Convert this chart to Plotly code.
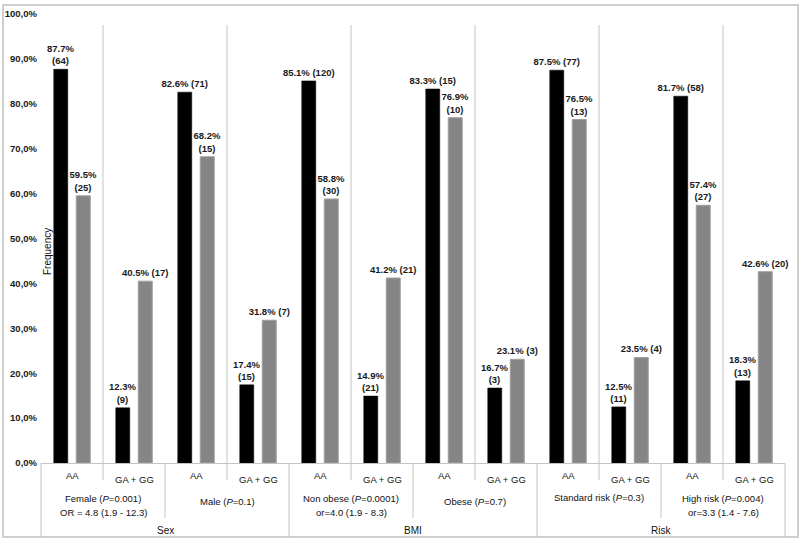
import plotly.graph_objects as go

# ---- data ----
genotypes = ["AA", "GA + GG"] * 6
groups = ["Female (<i>P</i>=0.001)", "Male (<i>P</i>=0.1)", "Non obese (<i>P</i>=0.0001)",
          "Obese (<i>P</i>=0.7)", "Standard risk (<i>P</i>=0.3)", "High risk (<i>P</i>=0.004)"]
group_or = ["OR = 4.8 (1.9 - 12.3)", "", "or=4.0 (1.9 - 8.3)", "", "", "or=3.3 (1.4 - 7.6)"]
variables = ["Sex", "BMI", "Risk"]

black_pct = [87.7, 12.3, 82.6, 17.4, 85.1, 14.9, 83.3, 16.7, 87.5, 12.5, 81.7, 18.3]
black_n = [64, 9, 71, 15, 120, 21, 15, 3, 77, 11, 58, 13]
gray_pct = [59.5, 40.5, 68.2, 31.8, 58.8, 41.2, 76.9, 23.1, 76.5, 23.5, 57.4, 42.6]
gray_n = [25, 17, 15, 7, 30, 21, 10, 3, 13, 4, 27, 20]
# label on two lines (True) or one line (False)
black_break = [True, True, False, True, False, True, False, True, False, True, False, True]
gray_break = [True, False, True, False, True, False, True, False, True, False, True, False]

ytick_vals = [0, 10, 20, 30, 40, 50, 60, 70, 80, 90, 100]
ytick_text = [f"{v:.1f}%".replace(".", ",") for v in ytick_vals]

# ---- layout geometry (pixels) ----
W, H = 802, 540
L, R, T, B = 41, 17, 14, 77
PH = H - T - B
zero_pix = H - B


def py(p):
    """pixel y -> paper y"""
    return (zero_pix - p) / PH


def px(p):
    return (p - L) / (W - L - R)


def make_labels(pcts, ns, breaks):
    out = []
    for v, n, b in zip(pcts, ns, breaks):
        sep = "<br>" if b else " "
        out.append(f"{v:.1f}%{sep}({n})")
    return out


xs = list(range(len(genotypes)))
FONT = "Liberation Sans, Arial, sans-serif"

fig = go.Figure()
fig.add_trace(go.Bar(
    x=xs, y=black_pct, text=make_labels(black_pct, black_n, black_break),
    textposition="outside", constraintext="none", cliponaxis=False,
    textfont=dict(family=FONT, size=9.5, color="#1a1a1a", weight="bold"),
    marker=dict(color="#000000", line=dict(color="#000000", width=0.5)),
    hoverinfo="skip", showlegend=False))
fig.add_trace(go.Bar(
    x=xs, y=gray_pct, text=make_labels(gray_pct, gray_n, gray_break),
    textposition="outside", constraintext="none", cliponaxis=False,
    textfont=dict(family=FONT, size=9.5, color="#1a1a1a", weight="bold"),
    marker=dict(color="#858585", line=dict(color="#a0a0a0", width=1)),
    hoverinfo="skip", showlegend=False))

line_col = "#c4c4c4"
shapes = []
# outer border
shapes.append(dict(type="rect", xref="paper", yref="paper",
                   x0=px(3), x1=px(798), y0=py(537), y1=py(5),
                   line=dict(color="#cfcfcf", width=2), layer="below"))
# table frame
shapes.append(dict(type="line", xref="paper", yref="paper", x0=0, x1=0,
                   y0=py(537), y1=0, line=dict(color=line_col, width=1)))
shapes.append(dict(type="line", xref="paper", yref="paper", x0=1, x1=1,
                   y0=py(537), y1=0, line=dict(color=line_col, width=1)))
# separators between AA and GA+GG (through plot)
for g in range(6):
    xb = 2 * g + 0.5
    shapes.append(dict(type="line", xref="x", yref="paper", x0=xb, x1=xb,
                       y0=py(480), y1=py(25), line=dict(color=line_col, width=1)))
# separators between groups within a variable
for xb in [1.5, 5.5, 9.5]:
    shapes.append(dict(type="line", xref="x", yref="paper", x0=xb, x1=xb,
                       y0=py(518), y1=0, line=dict(color=line_col, width=1)))
# separators between variables
for xb in [3.5, 7.5]:
    shapes.append(dict(type="line", xref="x", yref="paper", x0=xb, x1=xb,
                       y0=py(537), y1=0, line=dict(color=line_col, width=1)))

annots = []
tfont = dict(family=FONT, size=9.5, color="#111111")
for i, g in enumerate(genotypes):
    yy = 475 if g == "AA" else 479
    annots.append(dict(x=i, y=py(yy), xref="x", yref="paper", text=g,
                       showarrow=False, font=tfont, xanchor="center", yanchor="middle"))
for j, (g, o) in enumerate(zip(groups, group_or)):
    xc = 2 * j + 0.5
    if o:
        annots.append(dict(x=xc, y=py(498), xref="x", yref="paper", text=g,
                           showarrow=False, font=tfont, yanchor="middle"))
        annots.append(dict(x=xc, y=py(512), xref="x", yref="paper", text=o,
                           showarrow=False, font=tfont, yanchor="middle"))
    else:
        yy = 497 if j == 4 else 501
        annots.append(dict(x=xc, y=py(yy), xref="x", yref="paper", text=g,
                           showarrow=False, font=tfont, yanchor="middle"))
for k, v in enumerate(variables):
    xc = 4 * k + 1.5
    annots.append(dict(x=xc, y=py(530), xref="x", yref="paper", text=v,
                       showarrow=False, font=dict(family=FONT, size=10, color="#111111"),
                       yanchor="middle"))
# y-axis title inside plot
annots.append(dict(x=px(47), y=py(252), xref="paper", yref="paper", text="Frequency",
                   textangle=-90, showarrow=False,
                   font=dict(family=FONT, size=10, color="#111111"),
                   xanchor="center", yanchor="middle"))

fig.update_layout(
    width=W, height=H,
    margin=dict(l=L, r=R, t=T, b=B, autoexpand=False),
    paper_bgcolor="white", plot_bgcolor="white",
    barmode="group", bargap=0.274, bargroupgap=0.378,
    shapes=shapes, annotations=annots,
    font=dict(family=FONT),
)
fig.update_xaxes(range=[-0.5, 11.5], showticklabels=False, showgrid=False,
                 zeroline=False, showline=True, linecolor=line_col, linewidth=1,
                 ticks="", fixedrange=True)
fig.update_yaxes(range=[0, 100], tickvals=ytick_vals, ticktext=ytick_text,
                 showgrid=False, zeroline=False, showline=False, ticks="",
                 ticklabelstandoff=3,
                 tickfont=dict(family=FONT, size=9.5, color="#1a1a1a", weight="bold"),
                 fixedrange=True)

fig.write_html(
    "out.html",
    config={"displayModeBar": False, "staticPlot": True},
    post_script=("document.body.style.margin='0px';document.body.style.padding='0px';"
                 "document.documentElement.style.overflow='hidden';"),
)
